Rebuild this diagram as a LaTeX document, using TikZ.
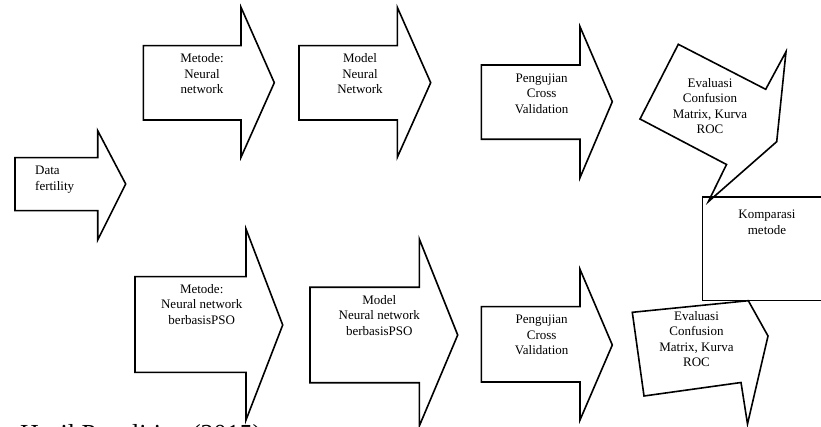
\documentclass[tikz,border=0pt]{standalone}
\usepackage{fontspec}
\setmainfont{Liberation Serif}
\begin{document}
\begin{tikzpicture}[x=1pt,y=-1pt,
  shapeline/.style={draw=black,line width=1.6pt,line join=miter},
  lbl/.style={inner sep=0pt,align=center,font=\fontsize{13}{15.5}\selectfont},
  caption/.style={inner sep=0pt,anchor=base west,font=\fontsize{26}{30}\selectfont}]
\useasboundingbox (0,0) rectangle (821,427);
\begin{scope}
\clip (0,0) rectangle (821,427);

% Data fertility
\draw[shapeline] (15,157.7) -- (97.7,157.7) -- (97.7,130.7) -- (125.7,184) -- (97.7,240) -- (97.7,210.7) -- (15,210.7) -- cycle;
\node[lbl,align=left,anchor=west] (data) at (35,179.5) {Data\\fertility};

% top row
\draw[shapeline] (143.3,45.7) -- (241,45.7) -- (241,7.3) -- (274.3,82.7) -- (241,157.3) -- (241,120) -- (143.3,120) -- cycle;
\node[lbl] (metA) at (202,74) {Metode:\\Neural\\network};

\draw[shapeline] (299,45.7) -- (397.3,45.7) -- (397.3,7.3) -- (430.7,82.7) -- (397.3,157.3) -- (397.3,120) -- (299,120) -- cycle;
\node[lbl] (modA) at (360,74) {Model\\Neural\\Network};

\draw[shapeline] (481.3,65) -- (580,65) -- (580,26.7) -- (612.3,101.7) -- (580,177.7) -- (580,139.3) -- (481.3,139.3) -- cycle;
\node[lbl] (ujiA) at (541.7,93.5) {Pengujian\\Cross\\Validation};

\draw[shapeline] (678.3,44.3) -- (765.7,89.3) -- (786,51.7) -- (776.7,141.7) -- (708.3,201.7) -- (726.5,164.5) -- (640,119) -- cycle;
\node[lbl] (evA) at (710,106) {Evaluasi\\Confusion\\Matrix, Kurva\\ROC};

% Komparasi (runs on past the right edge)
\coordinate (kTR) at (821,197.3);
\coordinate (kBR) at (821,300.7);
\draw[shapeline] (kTR) -- (702.3,197.3) -- (702.3,300.7) -- (kBR);
\node[lbl] (komp) at (767,222.5) {Komparasi\\metode};

% bottom row
\draw[shapeline] (135,276.7) -- (246,276.7) -- (246,229) -- (282.7,325) -- (246,420) -- (246,372.3) -- (135,372.3) -- cycle;
\node[lbl] (metB) at (201.7,304.5) {Metode:\\Neural network\\berbasisPSO};

\draw[shapeline] (310,287.3) -- (419.3,287.3) -- (419.3,239) -- (457.7,335) -- (419.3,426) -- (419.3,382.7) -- (310,382.7) -- cycle;
\node[lbl] (modB) at (379.3,315.5) {Model\\Neural network\\berbasisPSO};

\draw[shapeline] (481.3,306.7) -- (580,306.7) -- (580,269.3) -- (612.3,345) -- (580,420) -- (580,382) -- (481.3,382) -- cycle;
\node[lbl] (ujiB) at (541.7,335) {Pengujian\\Cross\\Validation};

\draw[shapeline] (632.3,312.3) -- (748.3,300.7) -- (768,336) -- (747.5,424) -- (741,382.5) -- (644,396) -- cycle;
\node[lbl] (evB) at (696.5,339) {Evaluasi\\Confusion\\Matrix, Kurva\\ROC};

% caption (cut off at the bottom edge, as in the reference)
\node[caption] (cap) at (20,442) {Hasil Penelitian (2015)};
\end{scope}
\end{tikzpicture}
\end{document}
